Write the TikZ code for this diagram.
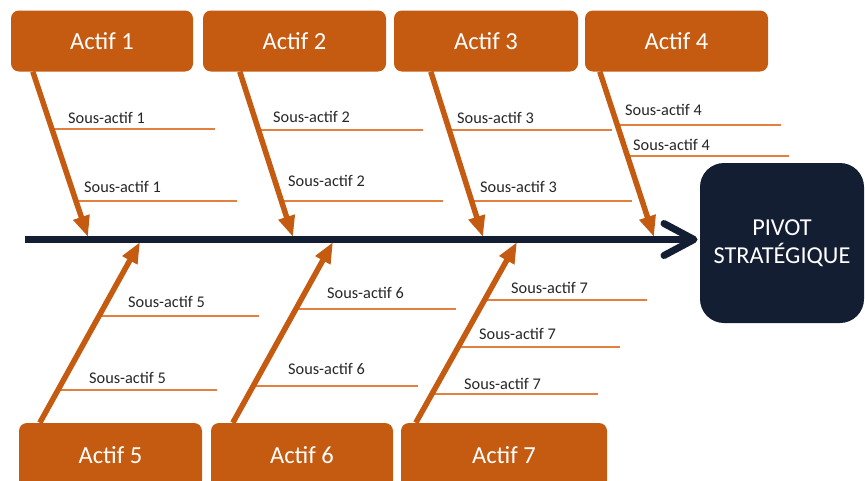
\documentclass[tikz,border=0pt]{standalone}
\usepackage{fontspec}
\setmainfont{Carlito}
\usetikzlibrary{arrows.meta}
\definecolor{orangebox}{HTML}{C55A11}
\definecolor{thinorange}{HTML}{E2803F}
\definecolor{navy}{HTML}{141E33}
\definecolor{subtext}{HTML}{262626}
\tikzset{
  actifbox/.style={draw=none, fill=orangebox, rounded corners=8pt, text=white,
    font=\fontsize{24.5}{27}\selectfont, minimum height=61pt, inner sep=0pt},
  pivotbox/.style={fill=navy, rounded corners=24pt, text=white, align=center,
    font=\fontsize{24.3}{28}\selectfont, minimum width=164pt, minimum height=160pt, inner sep=0pt},
  bone/.style={draw=orangebox, line width=5.5pt, -{Triangle[length=21pt,width=16pt]}, shorten >=0pt},
  spine/.style={draw=navy, line width=7.5pt},
  chevron/.style={draw=navy, line width=7pt, line cap=round, line join=round},
  subline/.style={draw=thinorange, line width=1.3pt},
  sublabel/.style={font=\fontsize{16.3}{19}\selectfont, text=subtext, inner sep=0pt, anchor=base west},
}
\begin{document}
\begin{tikzpicture}[x=1pt,y=-1pt]
\useasboundingbox (0,0) rectangle (865,480);
\clip (0,0) rectangle (865,480);
% boxes
\node[actifbox, minimum width=182pt] (a1) at (102,41) {Actif 1};
\node[actifbox, minimum width=183pt] (a2) at (294.5,41) {Actif 2};
\node[actifbox, minimum width=184pt] (a3) at (486,41) {Actif 3};
\node[actifbox, minimum width=183pt] (a4) at (676.5,41) {Actif 4};
\node[actifbox, minimum width=183pt, minimum height=65pt] (a5) at (110.5,455.5) {Actif 5};
\node[actifbox, minimum width=182pt, minimum height=65pt] (a6) at (302,455.5) {Actif 6};
\node[actifbox, minimum width=206pt, minimum height=65pt] (a7) at (504,455.5) {Actif 7};
\node[pivotbox] (pv) at (782,243) {PIVOT\\STRATÉGIQUE};
% spine
\coordinate (s0) at (25,239.5);
\coordinate (tip) at (694,239.5);
\draw[spine] (s0) -- (tip);
\draw[chevron] ([shift={(-30pt,-16pt)}]tip) -- (tip) -- ([shift={(-30pt,16pt)}]tip);
% tips on the spine
\coordinate (t1) at (88,237);
\coordinate (t2) at (293,237);
\coordinate (t3) at (483,237);
\coordinate (t4) at (654,237);
\coordinate (t5) at (140,242);
\coordinate (t6) at (333,242);
\coordinate (t7) at (517,242);
% sub-lines (drawn under the bones)
\draw[subline] (53,129) -- (215,129);
\draw[subline] (76,201) -- (237,201);
\draw[subline] (260,130) -- (423,130);
\draw[subline] (281,201) -- (443,201);
\draw[subline] (450,130) -- (612,130);
\draw[subline] (472,201) -- (632,201);
\draw[subline] (619,125) -- (781,125);
\draw[subline] (628,156) -- (789,156);
\draw[subline] (100,316) -- (259,316);
\draw[subline] (59,390) -- (217,390);
\draw[subline] (297,309) -- (456,309);
\draw[subline] (254,386) -- (418,386);
\draw[subline] (485,300) -- (647,300);
\draw[subline] (459,347) -- (620,347);
\draw[subline] (433,394) -- (598,394);
% bones
\draw[bone] ([xshift=22pt]a1.south west) -- (t1);
\draw[bone] ([xshift=37pt]a2.south west) -- (t2);
\draw[bone] ([xshift=37pt]a3.south west) -- (t3);
\draw[bone] ([xshift=15pt]a4.south west) -- (t4);
\draw[bone] ([xshift=21pt]a5.north west) -- (t5);
\draw[bone] ([xshift=22pt]a6.north west) -- (t6);
\draw[bone] ([xshift=15pt]a7.north west) -- (t7);
% labels
\node[sublabel] (l1a) at (68,123.5) {Sous-actif 1};
\node[sublabel] (l1b) at (84,192.5) {Sous-actif 1};
\node[sublabel] (l2a) at (273,122.5) {Sous-actif 2};
\node[sublabel] (l2b) at (288,186.5) {Sous-actif 2};
\node[sublabel] (l3a) at (457,123.5) {Sous-actif 3};
\node[sublabel] (l3b) at (480,192.5) {Sous-actif 3};
\node[sublabel] (l4a) at (625,115.5) {Sous-actif 4};
\node[sublabel] (l4b) at (633,150.5) {Sous-actif 4};
\node[sublabel] (l5a) at (128,307.5) {Sous-actif 5};
\node[sublabel] (l5b) at (89,383.5) {Sous-actif 5};
\node[sublabel] (l6a) at (327,298.5) {Sous-actif 6};
\node[sublabel] (l6b) at (288,374.5) {Sous-actif 6};
\node[sublabel] (l7a) at (511,293.5) {Sous-actif 7};
\node[sublabel] (l7b) at (479,339.5) {Sous-actif 7};
\node[sublabel] (l7c) at (464,389.5) {Sous-actif 7};
\end{tikzpicture}
\end{document}
